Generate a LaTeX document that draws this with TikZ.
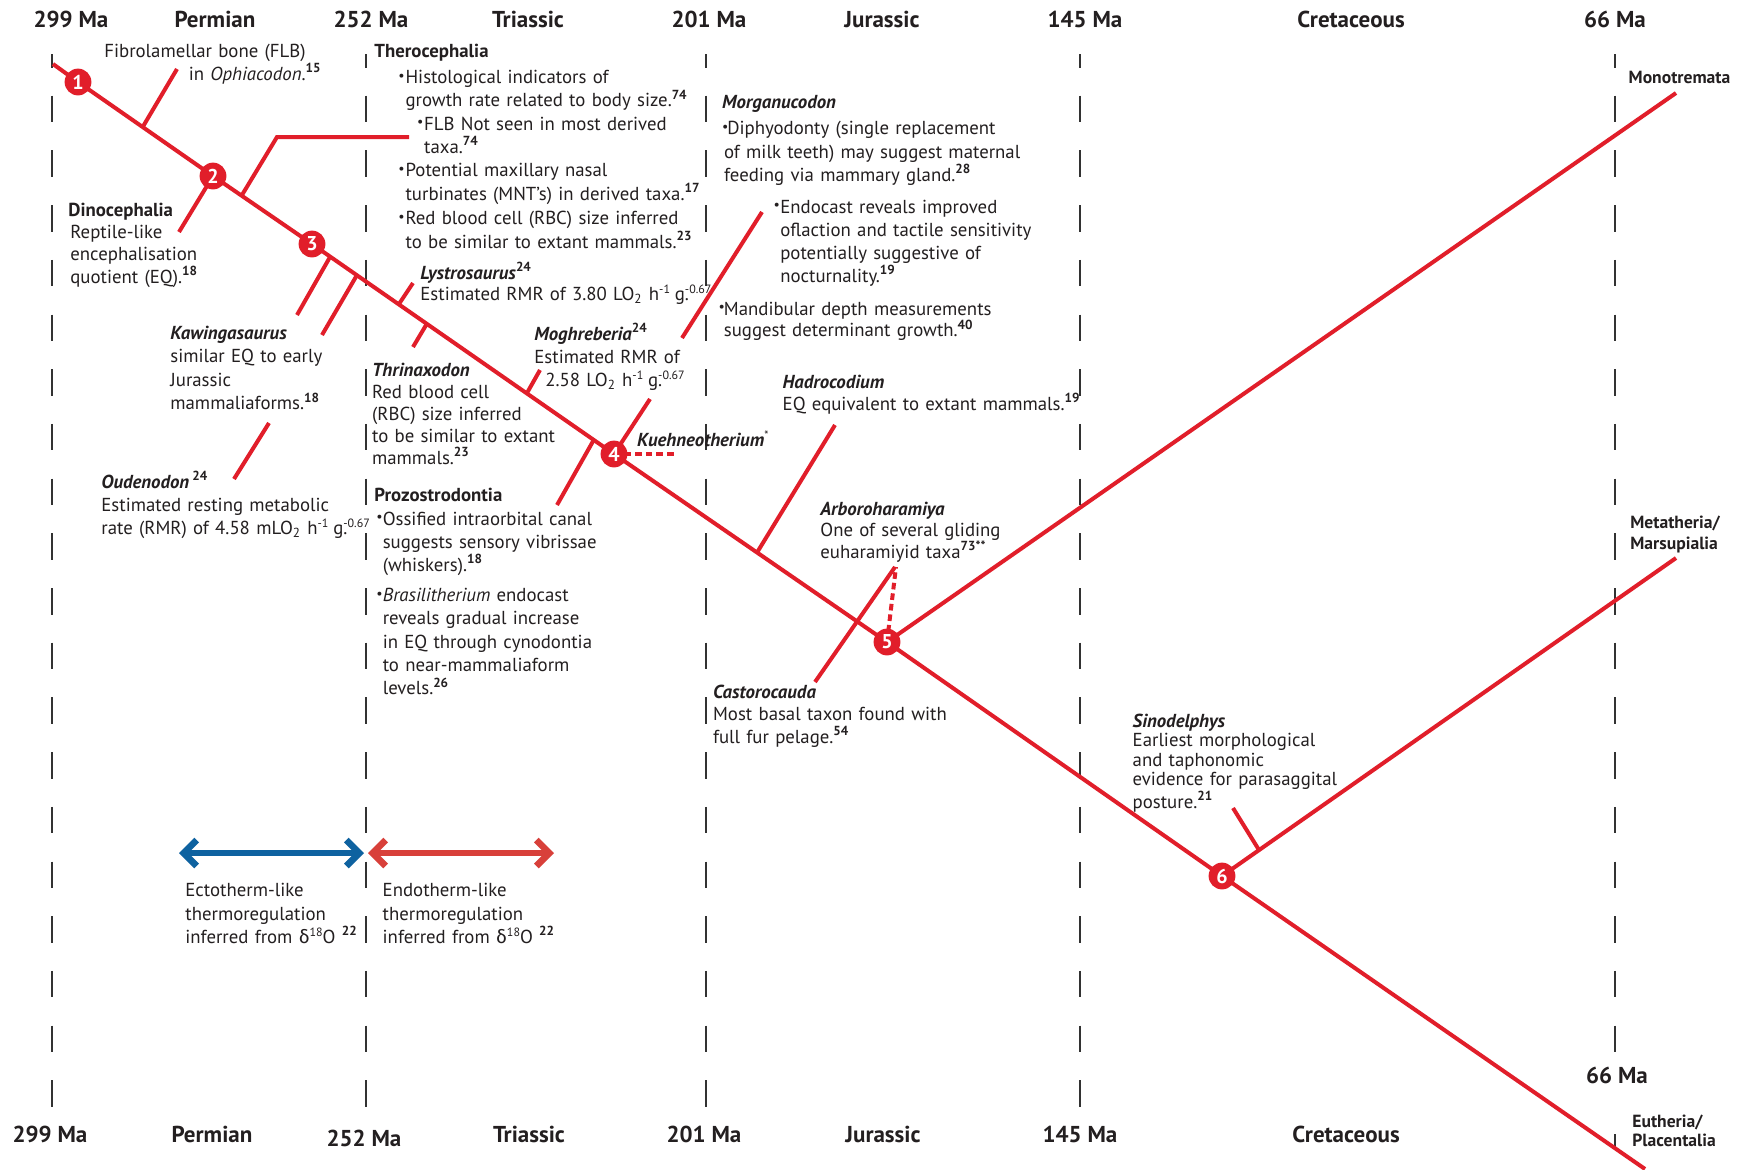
\documentclass[tikz,border=0pt]{standalone}
\usepackage{fontspec}
\setmainfont{PT Sans}
\newfontfamily\grk{Fira Sans}
\usetikzlibrary{arrows.meta}
\definecolor{tred}{RGB}{225,30,42}
\definecolor{ared}{RGB}{216,64,58}
\definecolor{ablue}{RGB}{14,98,160}
\definecolor{txt}{RGB}{35,31,32}
\definecolor{dgray}{RGB}{50,50,50}
\newcommand\rf[1]{\textsuperscript{\bfseries #1}}
\newcommand\ex[1]{\raisebox{0.72ex}{\fontsize{6}{6}\selectfont #1}}
\newcommand\bul[1][3.6pt]{\makebox[#1][l]{\raisebox{.18em}{\fontsize{7}{7}\selectfont •}}}
\newcommand\ind[1][3.6pt]{\hspace*{#1}}
\begin{document}
\begin{tikzpicture}[x=0.5pt,y=-0.5pt,
  tl/.style={draw=tred, line width=2pt, line cap=butt},
  dotl/.style={draw=tred, line width=2pt, dash pattern=on 3.3pt off 2pt},
  circ/.style={circle, fill=tred, inner sep=0pt, minimum size=13.4pt, text=white, font=\bfseries\fontsize{10}{10}\selectfont},
  tx/.style={text=txt, inner sep=0pt, align=left, text width=260pt, anchor=base west, font=\fontsize{9.4}{#1}\selectfont},
  tx/.default=11.65pt,
  lab/.style={text=txt, inner sep=0pt, align=left, anchor=base west, text width=80pt, font=\bfseries\fontsize{8.8}{#1}\selectfont},
  lab/.default=10.5pt,
  hdr/.style={font=\bfseries\fontsize{11.5}{13}\selectfont, text=txt, inner sep=0pt, anchor=base},
  tline/.style={draw=dgray, line width=1.3pt, dash pattern=on 13.25pt off 14.1pt, dash phase=6.5pt}
]
\useasboundingbox[fill=white] (0,0) rectangle (1757,1169);

% time lines
\foreach \xx/\nm in {52/a,366/b,706/c,1080/d}{
  \coordinate (t\nm top) at (\xx,54);
  \coordinate (t\nm bot) at (\xx,1108);
  \draw[tline] (t\nm top) -- (t\nm bot);
}
\coordinate (tetop) at (1615,54);
\coordinate (tebot) at (1615,1053);
\draw[tline] (tetop) -- (tebot);
\coordinate (tex1) at (1615,1134);
\coordinate (tex2) at (1615,1147);
\draw[draw=dgray, line width=1.3pt] (tex1) -- (tex2);

% headers
\node[hdr] (h1) at (71,27) {299 Ma};
\node[hdr] (h2) at (215,27) {Permian};
\node[hdr] (h3) at (371,27) {252 Ma};
\node[hdr] (h4) at (528,27) {Triassic};
\node[hdr] (h5) at (709,27) {201 Ma};
\node[hdr] (h6) at (882,27) {Jurassic};
\node[hdr] (h7) at (1085,27) {145 Ma};
\node[hdr] (h8) at (1351,27) {Cretaceous};
\node[hdr] (h9) at (1615,27) {66 Ma};

\node[hdr] (f1) at (50,1142) {299 Ma};
\node[hdr] (f2) at (212,1142) {Permian};
\node[hdr] (f3) at (364,1146) {252 Ma};
\node[hdr] (f4) at (529,1142) {Triassic};
\node[hdr] (f5) at (704,1142) {201 Ma};
\node[hdr] (f6) at (883,1142) {Jurassic};
\node[hdr] (f7) at (1080,1142) {145 Ma};
\node[hdr] (f8) at (1346,1142) {Cretaceous};
\node[hdr] (f9) at (1617,1083) {66 Ma};

% tree coordinates
\coordinate (S) at (53,64);
\coordinate (E) at (1645,1169);
\coordinate (M) at (1676,93);
\coordinate (T) at (1676,558);
\coordinate (c1) at (78,82);
\coordinate (c2) at (213,176);
\coordinate (c3) at (312,244);
\coordinate (c4) at (614,454);
\coordinate (c5) at (887,642);
\coordinate (c6) at (1222,876);

\draw[tl] (S) -- (c1) -- (c2) -- (c3) -- (c4) -- (c5) -- (c6) -- (E);
\draw[tl] (c5) -- (M);
\draw[tl] (c6) -- (T);

% ticks
\coordinate (fa) at (143,126.5); \coordinate (fb) at (177,69);
\draw[tl] (fa) -- (fb);
\coordinate (ta) at (242,195); \coordinate (tb) at (277,137); \coordinate (tc) at (409,137);
\draw[tl, line join=miter] (ta) -- (tb) -- (tc);
\coordinate (da) at (179,232);
\draw[tl] (c2) -- (da);
\coordinate (ka1) at (330,257); \coordinate (kb1) at (297,315);
\coordinate (ka2) at (357,275); \coordinate (kb2) at (322,335);
\draw[tl] (ka1) -- (kb1);
\draw[tl] (ka2) -- (kb2);
\coordinate (oa) at (269,423); \coordinate (ob) at (234,479);
\draw[tl] (oa) -- (ob);
\coordinate (la) at (399,304); \coordinate (lb) at (413,283);
\draw[tl] (la) -- (lb);
\coordinate (tha) at (427,323.5); \coordinate (thb) at (413,347);
\draw[tl] (tha) -- (thb);
\coordinate (ma) at (527,393); \coordinate (mb) at (540,370);
\draw[tl] (ma) -- (mb);
\coordinate (pa) at (594,439.5); \coordinate (pb) at (557,505);
\draw[tl] (pa) -- (pb);
\coordinate (qa) at (650,399);
\draw[tl] (c4) -- (qa);
\coordinate (mga) at (682,338); \coordinate (mgb) at (762,212);
\draw[tl] (mga) -- (mgb);
\coordinate (kua) at (677,454);
\draw[dotl] (c4) -- (kua);
\coordinate (hda) at (757,552.6); \coordinate (hdb) at (835,425);
\draw[tl] (hda) -- (hdb);
\coordinate (ara) at (896,567);
\draw[dotl] (c5) -- (ara);
\coordinate (csa) at (815,682); \coordinate (csb) at (895,567);
\draw[tl] (csa) -- (csb);
\coordinate (sia) at (1259,850); \coordinate (sib) at (1233,808);
\draw[tl] (sia) -- (sib);

% numbered circles
\node[circ] (n1) at (c1) {1};
\node[circ] (n2) at (c2) {2};
\node[circ] (n3) at (c3) {3};
\node[circ] (n4) at (c4) {4};
\node[circ] (n5) at (c5) {5};
\node[circ] (n6) at (c6) {6};

% arrows
\coordinate (bl) at (179,853); \coordinate (br) at (364,853);
\coordinate (rl) at (368,853); \coordinate (rr) at (554,853);
\draw[line width=3.3pt, ablue, {Straight Barb[length=6.5pt,width=13pt]}-{Straight Barb[length=6.5pt,width=13pt]}] (bl) -- (br);
\draw[line width=3.3pt, ared, {Straight Barb[length=6.5pt,width=13pt]}-{Straight Barb[length=6.5pt,width=13pt]}] (rl) -- (rr);

% texts
\node[text=txt, inner sep=0pt, align=right, text width=120pt, anchor=base east, font=\fontsize{9.4}{10.5pt}\selectfont] (fibro) at (306,57)
  {Fibrolamellar bone (FLB)\\ in \textit{Ophiacodon}.\rlap{\rf{15}}};

\node[tx=11.2pt] (dino) at (68,216)
  {\textbf{Dinocephalia}\\ \hspace*{1pt}Reptile-like\\ \hspace*{1pt}encephalisation\\ \hspace*{1pt}quotient (EQ).\rf{18}};

\node[tx] (thero) at (374,57)
  {\textbf{Therocephalia}\\[1.6pt]
   \hspace*{12pt}\bul Histological indicators of\\
   \hspace*{12pt}\ind growth rate related to body size.\rf{74}\\
   \hspace*{21.3pt}\bul FLB Not seen in most derived\\
   \hspace*{21.3pt}\ind taxa.\rf{74}\\
   \hspace*{12pt}\bul Potential maxillary nasal\\
   \hspace*{12pt}\ind turbinates (MNT’s) in derived taxa.\rf{17}\\[0.8pt]
   \hspace*{12pt}\bul Red blood cell (RBC) size inferred\\
   \hspace*{12pt}\ind to be similar to extant mammals.\rf{23}};

\node[tx=9.5pt] (lystro) at (420,279.3)
  {\textbf{\textit{Lystrosaurus}}\rf{24}\\ Estimated RMR of 3.80 LO\textsubscript{2} h\ex{-1}\kern2.4pt g\rlap{.}\ex{-0.67}};

\node[tx=11.5pt] (moghre) at (534,340)
  {\textbf{\textit{Moghreberia}}\rf{24}\\ Estimated RMR of\\ \hspace*{5.5pt}2.58 LO\textsubscript{2} h\ex{-1}\kern2.4pt g\rlap{.}\ex{-0.67}};

\node[tx=11pt] (thrin) at (371.7,376)
  {\textbf{\textit{Thrinaxodon}}\\ Red blood cell\\ (RBC) size inferred\\ to be similar to extant\\ mammals.\rf{23}};

\node[tx] (prozo) at (374,501.7)
  {\textbf{Prozostrodontia}\\
   \hspace*{1pt}\bul[3.2pt]Ossified intraorbital canal\\
   \hspace*{4.2pt}suggests sensory vibrissae\\
   \hspace*{4.2pt}(whiskers).\rf{18}\\[3.3pt]
   \hspace*{1pt}\bul[3.2pt]\textit{Brasilitherium} endocast\\
   \hspace*{4.2pt}reveals gradual increase\\
   \hspace*{4.2pt}in EQ through cynodontia\\
   \hspace*{4.2pt}to near-mammaliaform\\
   \hspace*{4.2pt}levels.\rf{26}};

\node[tx=11.75pt] (kawinga) at (170,339.3)
  {\textbf{\textit{Kawingasaurus}}\\ similar EQ to early\\ Jurassic\\ mammaliaforms.\rf{18}};

\node[tx=11.5pt] (oudeno) at (101,488.3)
  {\textbf{\textit{Oudenodon}}\,\rf{24}\\ Estimated resting metabolic\\ rate (RMR) of 4.58 mLO\textsubscript{2} h\ex{-1}\kern2.4pt g\rlap{.}\ex{-0.67}};

\node[tx] (morg1) at (721.7,108.3)
  {\textbf{\textit{Morganucodon}}\\[1.6pt]
   \bul[2.6pt]Diphyodonty (single replacement\\
   \ind[1pt]of milk teeth) may suggest maternal\\
   \ind[1pt]feeding via mammary gland.\rf{28}};

\node[tx=11.5pt] (morg2) at (773.3,213.3)
  {\bul[3.3pt]Endocast reveals improved\\
   \ind[3.3pt]oflaction and tactile sensitivity\\
   \ind[3.3pt]potentially suggestive of\\
   \ind[3.3pt]nocturnality.\rf{19}};

\node[tx=10.85pt] (morg3) at (718.3,315)
  {\bul[2.6pt]Mandibular depth measurements\\
   \ind[2.6pt]suggest determinant growth.\rf{40}};

\node[tx=10.85pt] (hadro) at (782.3,388.3)
  {\textbf{\textit{Hadrocodium}}\\ EQ equivalent to extant mammals.\rf{19}};

\node[tx] (kuehne) at (636.7,446.7)
  {\textbf{\textit{Kuehneotherium}}\ex{*}};

\node[tx=10.85pt] (arboro) at (820,515)
  {\textbf{\textit{Arboroharamiya}}\\ One of several gliding\\ euharamiyid taxa\rf{73**}};

\node[tx=11.25pt] (castoro) at (712.7,698.3)
  {\textbf{\textit{Castorocauda}}\\ Most basal taxon found with\\ full fur pelage.\rf{54}};

\node[tx=9.6pt] (sino) at (1132.3,727.7)
  {\textbf{\textit{Sinodelphys}}\\ Earliest morphological\\ and taphonomic\\ evidence for parasaggital\\ posture.\rf{21}};

\node[tx] (ecto) at (185,896.7)
  {Ectotherm-like\\ thermoregulation\\ inferred from {\grk δ}\ex{18}O \rf{22}};

\node[tx] (endo) at (382.3,896.7)
  {Endotherm-like\\ thermoregulation\\ inferred from {\grk δ}\ex{18}O \rf{22}};

\node[lab] (mono) at (1628.3,83.3) {Monotremata};
\node[lab] (meta) at (1630,528) {Metatheria/\\Marsupialia};
\node[lab=9.5pt] (euth) at (1632,1127) {Eutheria/\\Placentalia};

\end{tikzpicture}
\end{document}
